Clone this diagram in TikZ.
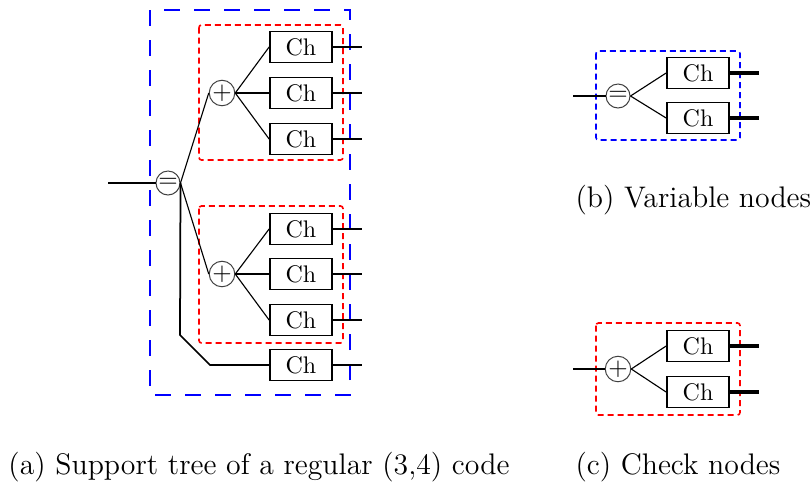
\documentclass[tikz,border=0pt]{standalone}
\usepackage{tikz}
\usetikzlibrary{positioning,calc}
\usepackage{xcolor}
\definecolor{varblue}{HTML}{0000FF}
\definecolor{chkred}{HTML}{FF0000}

\begin{document}
\begin{tikzpicture}[x=0.4pt, y=-0.4pt,
  ch/.style={rectangle, draw, line width=0.7pt, minimum width=24.8pt, minimum height=12.4pt, inner sep=0pt, font=\fontsize{9.6}{11}\selectfont},
  op/.style={circle, draw=black!75, thin, minimum size=9.6pt, inner sep=0pt, font=\normalsize},
  link/.style={draw, line width=0.45pt},
  wire/.style={draw, line width=0.7pt},
  fat/.style={draw, line width=1.3pt},
  varbox/.style={draw=varblue, line width=0.7pt, dash pattern=on 6.4pt off 5.6pt},
  chkbox/.style={draw=chkred, line width=0.65pt, dash pattern=on 2.4pt off 1.6pt, rounded corners=1pt},
  captext/.style={anchor=west, font=\fontsize{11.9}{14}\selectfont, inner sep=0pt}
]
  \useasboundingbox (0,0) rectangle (810,488);

  % (a) support tree
  \draw[varbox] (150,10) rectangle (350,395);
  \draw[chkbox] (199,25) rectangle (343,160);
  \draw[chkbox] (199,206) rectangle (343,343);

  \coordinate (in) at (108,183);
  \node[op] (eq) at (168,183) {$=$};
  \node[op] (p1) at (222,93) {$+$};
  \node[op] (p2) at (222,274) {$+$};
  \foreach \i/\y in {1/47,2/93,3/139,4/229,5/274,6/320,7/365}{
    \node[ch] (c\i) at (301,\y) {Ch};
    \coordinate (o\i) at (362,\y);
    \draw[wire] (c\i) -- (o\i);
  }
  \coordinate (k1) at (180,335);
  \coordinate (k2) at (210,365);

  \draw[wire] (in) -- (eq);
  \draw[link] (eq.east) -- (p1.west);
  \draw[link] (eq.east) -- (p2.west);
  \foreach \i in {1,2,3}{\draw[link] (p1.east) -- (c\i.west);}
  \foreach \i in {4,5,6}{\draw[link] (p2.east) -- (c\i.west);}
  \draw[wire] (eq.east) -- (k1) -- (k2) -- (c7.west);

  \node[captext] (capa) at (8,467) {(a) Support tree of a regular (3,4) code};

  % (b) variable nodes
  \draw[varbox, dash pattern=on 2.4pt off 1.6pt, line width=0.65pt, rounded corners=1pt] (596,51) rectangle (740,140);
  \coordinate (vin) at (573,96);
  \node[op] (veq) at (618,96) {$=$};
  \node[ch] (vc1) at (698,73) {Ch};
  \node[ch] (vc2) at (698,118) {Ch};
  \coordinate (vo1) at (759,73);
  \coordinate (vo2) at (759,118);
  \draw[link] (vin) -- (veq);
  \foreach \i in {1,2}{\draw[link] (veq.east) -- (vc\i.west); \draw[fat] (vc\i) -- (vo\i);}
  \node[captext] (capb) at (575,200) {(b) Variable nodes};

  % (c) check nodes
  \draw[chkbox] (596,323) rectangle (740,415);
  \coordinate (cin) at (573,369);
  \node[op] (cpl) at (618,369) {$+$};
  \node[ch] (cc1) at (698,346) {Ch};
  \node[ch] (cc2) at (698,392) {Ch};
  \coordinate (co1) at (759,346);
  \coordinate (co2) at (759,392);
  \draw[link] (cin) -- (cpl);
  \foreach \i in {1,2}{\draw[link] (cpl.east) -- (cc\i.west); \draw[fat] (cc\i) -- (co\i);}
  \node[captext] (capc) at (575,467) {(c) Check nodes};
\end{tikzpicture}
\end{document}
